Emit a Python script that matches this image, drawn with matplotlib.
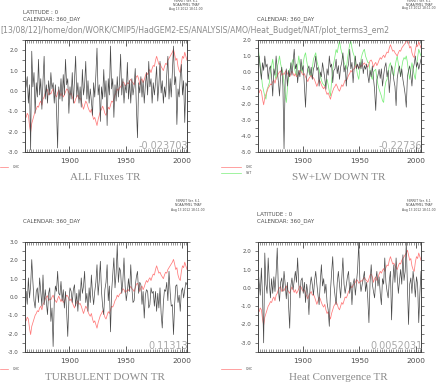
"""
plot.py
=======
Ferret-style four panel heat budget time series (HadGEM2-ES, NAT).
"""

import numpy as np
import matplotlib
matplotlib.use("Agg")
import matplotlib.pyplot as plt
import matplotlib.ticker as ticker

# ── Colour palette ──────────────────────────────────────────────────────────
BLACK_LN = "#4a4a4a"
RED_LN   = "#ff7a7a"
GREEN_LN = "#7aee7a"
AXES_CLR = "#444444"
TEXT_CLR = "#4d4d4d"
PALE_CLR = "#8a8a8a"
NUM_CLR  = "#a8a8a8"

W_PX, H_PX = 437, 384

# ── Data (annual, 1860-2004) ────────────────────────────────────────────────
START_YEAR = 1860

ohc = [
    -1.2, -1.3, -1.1, -1.2, -1.7, -2.05, -1.6, -1.4, -1.2, -1.0,
    -0.9, -0.75, -0.8, -0.6, -0.5, -0.7, -0.4, -0.3, -0.1, 0.0,
    0.07, -0.2, -0.1, -0.15, 0.0, 0.1, -0.1, -0.2, -0.3, -0.1,
    0.05, -0.1, -0.25, -0.1, -0.3, -0.2, -0.05, 0.1, 0.05, -0.1,
    -0.2, -0.1, -0.3, -0.45, -0.6, -0.4, -0.3, -0.2, -0.4, -0.35,
    -0.5, -0.7, -0.9, -0.7, -0.5, -0.6, -0.8, -0.95, -1.05, -0.9,
    -1.2, -1.4, -1.3, -1.5, -1.7, -1.4, -1.2, -1.0, -0.9, -0.75,
    -0.9, -1.1, -1.2, -1.0, -0.8, -0.9, -0.7, -0.5, -0.55, -0.4,
    -0.2, -0.1, 0.1, 0.0, 0.15, 0.2, 0.3, 0.45, 0.4, 0.25,
    0.3, 0.4, 0.35, 0.5, 0.57, 0.45, 0.4, 0.3, 0.5, 0.7,
    0.75, 0.6, 0.3, 0.5, 0.6, 0.4, 0.55, 0.75, 0.9, 0.8,
    0.95, 1.05, 0.9, 1.1, 1.25, 1.2, 1.5, 1.7, 1.5, 1.3,
    1.35, 1.2, 1.1, 1.0, 1.2, 1.35, 1.3, 1.5, 1.6, 1.7,
    1.8, 1.9, 2.05, 1.8, 1.5, 1.6, 1.2, 1.0, 0.9, 1.4,
    1.7, 1.6, 1.9, 1.7, 1.5,
]

all_fluxes = [
    0.0, 0.24, 0.7, -0.6, 0.3, -2.9, 1.95, 0.2, 0.9, -1.1,
    0.4, -0.3, 1.55, -0.2, 0.6, -0.9, 0.5, 1.7, -0.4, 0.3,
    -0.6, 0.5, -0.2, 0.9, 0.1, 0.4, -0.6, 0.3, -0.9, -2.8,
    0.2, -0.4, 0.6, -0.5, 0.8, -0.2, 1.55, 0.3, 0.6, -1.1,
    0.2, -0.4, 0.9, -0.6, 0.5, 1.7, -0.3, 0.4, -0.6, 0.2,
    -0.8, 1.05, -0.2, 0.3, 1.45, -0.4, 0.5, -0.6, 0.1, -0.5,
    -1.2, 0.4, -0.3, 0.8, 2.1, -0.2, 0.3, -1.5, 0.2, -0.4,
    1.05, -0.3, 0.5, -1.7, 0.6, -0.2, 2.2, 0.1, 0.6, -1.3,
    0.3, -0.5, 0.7, -0.3, 0.4, 1.8, -0.2, 0.6, -0.6, 0.3,
    -0.1, 1.4, -0.4, 0.5, -0.6, 0.6, -0.2, 0.25, 1.1, -0.8,
    -2.3, 0.4, -0.1, 0.7, -0.3, 0.5, -0.6, 0.3, 0.9, -0.2,
    1.45, 0.2, 0.6, -0.6, 0.4, -0.2, 0.4, 1.2, -0.5, 0.3,
    1.45, -0.1, 0.5, -0.6, 0.2, -0.3, 0.8, 1.7, -0.4, 0.6,
    -0.3, 0.9, 2.2, 0.3, 0.7, -1.65, 0.1, -0.3, 0.7, 1.3,
    -0.2, 0.5, -1.55, 0.4, 0.24,
]

sw_lw_down = [
    0.6, 1.0, 0.2, -0.46, 0.58, 0.1, 1.0, 0.3, 0.5, -0.46,
    0.2, 0.38, -0.3, -1.5, 0.2, -0.2, 1.0, 0.1, -0.6, -1.5,
    -0.2, 0.3, -0.88, -4.8, -0.5, 0.2, -0.88, 0.1, -0.3, 0.58,
    -0.2, 0.6, 1.42, 0.2, 0.5, -0.67, 0.1, -0.3, 0.8, 0.1,
    0.4, -0.9, -2.2, -0.3, 0.2, 0.38, -0.2, 0.3, -0.46, 0.2,
    0.4, 1.0, 0.1, 0.3, -0.88, 0.0, -0.3, 0.58, 0.1, -0.4,
    -1.08, 0.2, -0.2, 1.0, 0.3, 0.5, -0.67, 0.1, 0.2, 0.8,
    -0.1, 0.4, -0.46, 0.3, 0.6, 1.2, 0.0, 0.4, -0.88, 0.2,
    0.5, 1.42, 0.2, 0.6, -0.67, 0.3, 1.0, 0.2, 0.5, 0.17,
    0.6, 0.2, 0.8, -0.1, 0.4, 0.17, 0.5, -0.2, -0.67, 0.1,
    -0.3, 0.38, -0.4, -1.1, -2.4, -0.5, -0.2, 0.17, -0.4, 0.2,
    -0.88, -0.2, 0.3, 0.58, -0.3, 0.1, -1.29, -0.3, 0.4, 0.17,
    -0.5, -0.9, -2.1, -0.4, 0.1, 0.38, -0.3, 0.2, -0.46, -0.9,
    -1.4, -2.2, -0.3, 0.1, 0.38, -0.2, -0.88, 0.2, 0.5, 1.0,
    0.3, 0.6, 0.17, 0.5, 0.8,
]

sst = [
    1.63, 1.0, 0.38, -0.3, -0.88, -1.2, -1.5, -1.7, -1.1, -0.9,
    -0.67, 0.0, 0.4, 0.8, 0.2, -0.2, -0.46, 0.3, 0.6, 1.0,
    0.5, 0.2, -0.04, -0.8, -1.4, -1.9, -1.0, -0.3, 0.17, 0.3,
    0.6, 0.8, 0.3, 0.0, -0.25, 0.4, 1.0, 0.5, 0.2, -0.04,
    0.6, 1.0, 1.2, 0.7, 0.3, 0.0, -0.2, -0.25, 0.3, 0.8,
    1.0, 1.2, 0.7, 0.4, 0.17, -0.2, -0.5, -0.7, -0.8, -0.88,
    -0.6, -0.46, -0.8, -1.2, -1.5, -0.6, 0.2, 0.58, 1.0, 1.4,
    1.2, 1.6, 1.94, 1.5, 1.2, 1.0, 0.6, 0.4, 0.17, 0.8,
    1.3, 1.7, 1.94, 1.5, 1.2, 1.0, 0.6, 0.2, -0.2, -0.46,
    0.2, 0.8, 1.1, 1.3, 1.42, 1.0, 0.8, 0.6, 0.58, 0.1,
    -0.3, -0.46, 0.0, 0.1, 0.17, -0.4, -0.8, -1.08, -1.3, -1.5,
    -1.8, -1.9, -1.0, -0.6, -0.46, 0.0, 0.4, 0.58, 0.2, -0.1,
    -0.25, 0.3, 0.7, 1.0, 0.5, 0.1, -0.25, 0.3, 0.7, 0.9,
    0.8, 1.0, 0.6, 0.0, -0.46, 0.1, 0.58, 0.2, -0.2, -0.46,
    0.3, 0.9, 1.42, 1.2, 1.0,
]

turbulent_down = [
    0.0, 0.31, -0.4, 1.04, -0.05, 0.6, 2.04, 0.85, -0.2, -0.6,
    0.3, 0.5, -0.3, 1.04, 0.31, -0.5, 1.2, -0.42, 0.4, -0.3,
    -0.96, 0.2, 0.5, -1.33, -0.6, -2.7, -0.3, 0.6, 0.31, 1.4,
    0.2, 0.1, 0.85, -0.2, 0.4, -0.6, 0.3, -0.8, -2.15, -0.2,
    0.5, 0.31, -0.3, 0.4, 0.67, -0.5, 0.2, -0.78, 0.4, -0.2,
    1.04, 0.2, 0.6, 1.4, -0.3, 0.2, -0.78, 0.5, -0.3, 1.2,
    0.2, -0.42, 0.3, 0.8, 1.76, 0.1, 0.9, 1.95, 0.3, -0.5,
    -0.96, 0.4, 0.8, 1.76, -0.2, 0.6, -1.9, 0.3, 1.2, 2.13,
    0.5, 1.3, 2.85, 0.8, 1.6, 1.4, 0.2, 0.9, 2.13, 0.6,
    -0.2, 0.31, 1.0, 0.3, 1.76, 0.5, -0.3, -0.2, 0.6, 1.1,
    1.4, 0.2, 0.8, 0.67, -0.4, 0.3, -1.15, 0.1, 0.4, 0.31,
    -0.6, -0.42, 0.5, 0.2, 0.31, -0.5, 0.3, -0.78, 0.2, -0.6,
    0.5, -0.9, -1.69, -0.3, 0.4, 0.31, 0.8, -0.2, 1.4, 0.3,
    -0.5, -0.42, -2.05, -0.4, 0.6, 0.67, -0.3, 0.1, -0.78, 0.3,
    0.5, -0.05, 0.4, 0.8, 0.67,
]

heat_convergence = [
    1.08, 0.3, -0.4, 1.08, -0.5, -3.0, 1.9, 0.2, -0.3, 1.63,
    0.3, -0.55, 0.5, -0.3, 0.6, -0.2, 0.8, 2.17, -0.1, -0.73,
    0.3, 0.54, -0.2, 0.9, 0.2, -0.6, 0.3, -0.9, -2.2, 0.1,
    0.54, -0.1, 0.4, 0.9, 0.3, 1.63, 0.2, -0.55, 0.4, 0.54,
    -0.3, 0.3, -0.8, 0.2, -0.3, -1.46, 0.1, 0.6, 0.17, -0.4,
    0.4, 0.9, 0.2, -0.4, -0.92, 0.3, 1.26, 0.1, 0.5, -0.3,
    0.2, -0.8, -1.2, -2.1, -0.2, 0.8, 1.7, 0.2, -0.4, -0.92,
    0.3, 0.9, 0.2, -0.55, 0.5, 1.63, 0.2, -0.3, 0.17, 0.6,
    0.9, -0.3, 0.3, -0.92, 0.2, 0.5, -0.4, 0.3, 1.0, 2.45,
    0.4, -0.2, 0.17, 0.5, 0.9, -0.2, 0.3, -0.6, -1.9, 0.3,
    1.26, 0.2, -0.2, -0.55, 0.4, 0.9, 0.1, 0.6, -0.3, -0.92,
    0.5, 0.2, 1.63, 0.3, -0.2, -0.55, 0.4, 0.9, -1.75, 0.2,
    1.26, 0.3, 1.63, 0.6, -0.3, 0.4, 1.0, 0.2, 1.8, 0.4,
    0.9, 2.45, 0.1, -2.0, 0.2, 0.54, -0.3, 0.9, 0.3, -0.5,
    0.6, 0.2, -1.9, -0.3, 0.9,
]

# Panel texts
titles = ["ALL Fluxes TR", "SW+LW DOWN TR", "TURBULENT DOWN TR", "Heat Convergence TR"]
corr_labels = ["-0.023703", "-0.22736", "0.11313", "0.0052031"]
y_ranges = [(-3.0, 2.5), (-5.0, 2.0), (-3.0, 3.0), (-3.5, 2.5)]
x_major = [1900, 1950, 2000]

PATH_TEXT = "[13/08/12]/home/don/WORK/CMIP5/HadGEM2-ES/ANALYSIS/AMO/Heat_Budget/NAT/plot_terms3_em2"
STAMP = "FERRET Ver. 6.1\nNOAA/PMEL TMAP\nAug 13 2012 18:11:00"

plt.rcParams.update({
    "font.family": "DejaVu Sans",
    "axes.edgecolor": AXES_CLR,
    "axes.linewidth": 0.7,
    "xtick.color": AXES_CLR,
    "ytick.color": AXES_CLR,
})


def fx(px):
    return px / W_PX


def fy(py):
    return 1 - py / H_PX


def style_axes(ax, ylim):
    ax.set_xlim(1860.5, 2004.5)
    ax.set_ylim(*ylim)
    ax.xaxis.set_major_locator(ticker.FixedLocator(x_major))
    ax.xaxis.set_minor_locator(ticker.MultipleLocator(2))
    ax.yaxis.set_major_locator(ticker.MultipleLocator(1.0))
    ax.yaxis.set_minor_locator(ticker.MultipleLocator(0.5))
    ax.yaxis.set_major_formatter(ticker.FormatStrFormatter("%.1f"))
    ax.tick_params(axis="x", which="major", direction="in", length=4, width=0.6,
                   top=True, labelsize=5.3, labelcolor=TEXT_CLR, pad=4.5)
    ax.tick_params(axis="x", which="minor", direction="in", length=2, width=0.4, top=True)
    ax.tick_params(axis="y", which="both", direction="out", length=2.5, width=0.5,
                   right=True, labelsize=4, labelcolor=TEXT_CLR, pad=2.5)


def draw_panel(fig, rect, ylim, black, corr, extra=None):
    years = START_YEAR + np.arange(len(black)) + 0.5
    ax = fig.add_axes(rect)
    ax.plot(years, black, color=BLACK_LN, linewidth=0.5, zorder=3)
    ax.plot(START_YEAR + np.arange(len(ohc)) + 0.5, ohc, color=RED_LN, linewidth=0.55, zorder=2)
    if extra is not None:
        ax.plot(START_YEAR + np.arange(len(extra)) + 0.5, extra, color=GREEN_LN,
                linewidth=0.55, zorder=1)
    style_axes(ax, ylim)
    ax.text(1.01, 0.005, corr, transform=ax.transAxes, ha="right", va="bottom",
            fontsize=7, color=NUM_CLR, zorder=5)
    return ax


def main():
    fig = plt.figure(figsize=(W_PX / 100, H_PX / 100), dpi=100)
    fig.patch.set_facecolor("white")

    # axes rectangles in pixels: (left, top, right, bottom)
    boxes = [(25, 40, 187, 152), (258, 40, 421, 152),
             (25, 242, 187, 352), (258, 242, 421, 352)]
    series = [all_fluxes, sw_lw_down, turbulent_down, heat_convergence]

    for i, (l, t, r, b) in enumerate(boxes):
        rect = [fx(l), fy(b), fx(r) - fx(l), fy(t) - fy(b)]
        draw_panel(fig, rect, y_ranges[i], series[i], corr_labels[i],
                   extra=sst if i == 1 else None)
        cx = (l + r) / 2 - 1
        fig.text(fx(cx), fy(b + 25), titles[i], ha="center", va="center",
                 fontsize=8, family="Liberation Serif", color=PALE_CLR)

    # ── Header text ──
    hdr = dict(fontsize=4, color=TEXT_CLR, ha="left", va="center")
    fig.text(fx(23), fy(13), "LATITUDE : 0", **hdr)
    fig.text(fx(23), fy(19.5), "CALENDAR: 360_DAY", **hdr)
    fig.text(fx(257), fy(19.5), "CALENDAR: 360_DAY", **hdr)
    fig.text(fx(23), fy(221), "CALENDAR: 360_DAY", **hdr)
    fig.text(fx(257), fy(214.5), "LATITUDE : 0", **hdr)
    fig.text(fx(257), fy(221), "CALENDAR: 360_DAY", **hdr)

    fig.text(fx(0), fy(30.5), PATH_TEXT, fontsize=5.6, color=PALE_CLR,
             ha="left", va="center")

    stamp = dict(fontsize=2.2, color=TEXT_CLR, ha="center", va="center",
                 linespacing=1.0)
    for sx, sy in [(186, 5), (419, 4.5), (188, 205.5), (419, 205.5)]:
        fig.text(fx(sx), fy(sy), STAMP, **stamp)

    # ── Legend keys ──
    for lx, ly, ng in [(0, 167, 1), (221, 167, 2), (0, 369, 1), (221, 369, 1)]:
        x0, x1 = (0, 8) if lx == 0 else (221, 241)
        fig.add_artist(plt.Line2D([fx(x0), fx(x1)], [fy(ly), fy(ly)],
                                  color=RED_LN, linewidth=0.5))
        fig.text(fx(x1 + 5), fy(ly), "OHC", fontsize=2.3, color=TEXT_CLR,
                 ha="left", va="center")
        if ng == 2:
            fig.add_artist(plt.Line2D([fx(x0), fx(x1)], [fy(ly + 6), fy(ly + 6)],
                                      color=GREEN_LN, linewidth=0.5))
            fig.text(fx(x1 + 5), fy(ly + 6), "SST", fontsize=2.3, color=TEXT_CLR,
                     ha="left", va="center")

    fig.savefig("out.png", dpi=100)
    plt.close(fig)


if __name__ == "__main__":
    main()
